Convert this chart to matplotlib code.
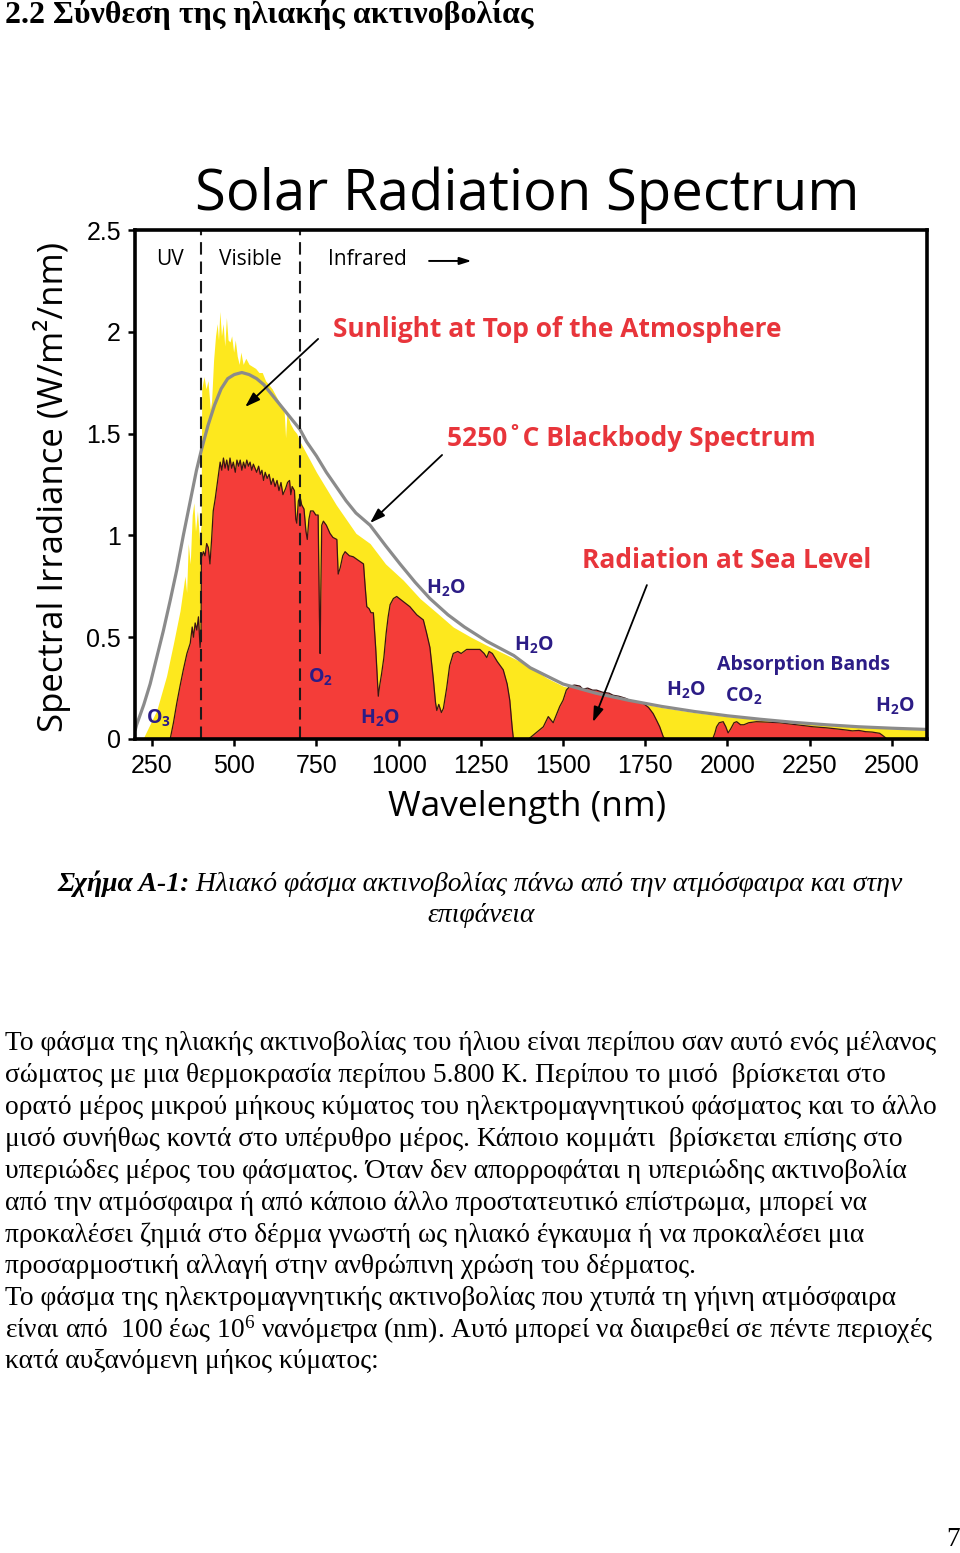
import numpy as np
import matplotlib
matplotlib.use('Agg')
import matplotlib.pyplot as plt

plt.rcParams['mathtext.default'] = 'regular'

# ---- chart data ----
# Sunlight at top of the atmosphere (yellow)
top_wl = [222, 240, 264, 294, 315, 335, 350, 355, 360, 366, 372, 377, 382, 388, 394, 399,
          401, 408, 414, 420, 427, 431, 437, 443, 448, 452, 456, 461, 466, 471, 476, 481,
          487, 492, 498, 503, 509, 515, 520, 527, 535, 545, 555, 565, 575, 585, 595, 605,
          615, 625, 635, 645, 652, 656, 660, 670, 680, 690, 700, 720, 750, 780, 810, 840,
          870, 913, 960, 1014, 1065, 1116, 1166, 1220, 1268, 1320, 1370, 1409, 1450, 1500,
          1600, 1700, 1800, 1900, 2000, 2100, 2200, 2300, 2400, 2500, 2607]
top_irr = [0.0, 0.06, 0.14, 0.31, 0.47, 0.63, 0.80, 0.72, 0.96, 0.86, 1.10, 1.16, 1.02, 1.12, 0.98, 1.05,
           1.72, 1.78, 1.72, 1.76, 1.62, 1.66, 1.86, 1.98, 2.04, 1.96, 2.10, 1.98, 2.04, 1.93, 2.07, 1.96,
           1.95, 1.98, 1.90, 1.96, 1.88, 1.84, 1.90, 1.84, 1.87, 1.84, 1.83, 1.82, 1.80, 1.80, 1.76, 1.74,
           1.72, 1.69, 1.66, 1.63, 1.60, 1.48, 1.60, 1.55, 1.52, 1.50, 1.46, 1.40, 1.31, 1.23, 1.15, 1.08,
           1.01, 0.96, 0.86, 0.78, 0.69, 0.62, 0.55, 0.50, 0.46, 0.42, 0.38, 0.345, 0.30, 0.26,
           0.22, 0.185, 0.155, 0.13, 0.11, 0.094, 0.079, 0.067, 0.058, 0.05, 0.045]

# Radiation at sea level (red)
sea_wl = [305, 315, 325, 335, 345, 356, 366, 372, 376, 381, 386, 391, 396, 399,
          400, 406, 411, 416, 421, 426, 431, 436, 442, 447, 452, 457, 462, 467, 472, 477,
          482, 487, 492, 497, 503, 508, 513, 518, 523, 528, 533, 538, 543, 548, 553, 558,
          563, 568, 574, 579, 584, 589, 594, 600, 606, 612, 618, 624, 630, 636, 642, 648,
          656, 662, 668, 672, 676, 683, 687, 690, 695, 700, 705, 712, 718, 722, 727, 732,
          740, 748, 755, 759, 761, 763, 766, 771, 780, 791, 800, 812, 816, 822, 830, 837,
          850, 862, 875, 893, 898, 903, 910, 916, 923, 930, 935, 938, 942, 948, 955, 962,
          968, 974, 984, 994, 1010, 1034, 1055, 1075, 1085, 1095, 1105, 1112, 1116, 1122,
          1130, 1136, 1146, 1155, 1166, 1180, 1190, 1207, 1225, 1247, 1260, 1268, 1275,
          1285, 1300, 1318, 1330, 1338, 1345, 1349,
          1395, 1410, 1425, 1440, 1455, 1460, 1470, 1480, 1490, 1500, 1510, 1521, 1535,
          1551, 1560, 1575, 1590, 1602, 1620, 1640, 1652, 1670, 1690, 1703, 1720, 1744,
          1760, 1774, 1785, 1794, 1805, 1812,
          1955, 1962, 1967, 1975, 1987, 1995, 2002, 2010, 2020, 2028, 2040, 2050, 2065,
          2088, 2120, 2159, 2200, 2230, 2261, 2300, 2330, 2362, 2380, 2400, 2420, 2440,
          2463, 2470, 2478, 2485, 2607]
sea_irr = [0.0, 0.08, 0.175, 0.26, 0.34, 0.42, 0.47, 0.55, 0.50, 0.57, 0.535, 0.60, 0.45, 0.52,
           0.89, 0.92, 0.90, 0.96, 0.94, 0.86, 0.98, 1.12, 1.18, 1.24, 1.30, 1.36, 1.32, 1.38, 1.33, 1.37,
           1.32, 1.38, 1.33, 1.36, 1.31, 1.37, 1.34, 1.37, 1.32, 1.36, 1.33, 1.37, 1.34, 1.36, 1.32, 1.35,
           1.33, 1.31, 1.34, 1.30, 1.32, 1.27, 1.31, 1.28, 1.30, 1.25, 1.28, 1.24, 1.27, 1.22, 1.26, 1.20,
           1.23, 1.26, 1.27, 1.20, 1.24, 1.22, 1.08, 1.06, 1.17, 1.19, 1.15, 1.13, 1.02, 0.98, 1.08, 1.12,
           1.12, 1.10, 1.10, 0.60, 0.42, 0.70, 1.05, 1.07, 1.05, 1.01, 0.99, 0.98, 0.81, 0.84, 0.90, 0.92,
           0.90, 0.895, 0.88, 0.86, 0.75, 0.65, 0.64, 0.62, 0.62, 0.45, 0.30, 0.21, 0.26, 0.32, 0.40, 0.52,
           0.60, 0.66, 0.69, 0.70, 0.68, 0.65, 0.61, 0.585, 0.52, 0.45, 0.30, 0.18, 0.14, 0.17,
           0.13, 0.15, 0.25, 0.36, 0.42, 0.43, 0.42, 0.44, 0.44, 0.44, 0.42, 0.40, 0.43,
           0.42, 0.38, 0.34, 0.27, 0.19, 0.06, 0.0,
           0.0, 0.02, 0.04, 0.06, 0.11, 0.10, 0.08, 0.12, 0.16, 0.19, 0.24, 0.26, 0.265,
           0.26, 0.245, 0.25, 0.24, 0.24, 0.23, 0.225, 0.215, 0.21, 0.20, 0.19, 0.185, 0.175,
           0.155, 0.125, 0.09, 0.06, 0.01, 0.0,
           0.0, 0.03, 0.06, 0.08, 0.085, 0.06, 0.03, 0.05, 0.08, 0.085, 0.07, 0.07, 0.08,
           0.085, 0.083, 0.08, 0.072, 0.066, 0.06, 0.055, 0.05, 0.044, 0.04, 0.042, 0.036, 0.034,
           0.028, 0.02, 0.01, 0.0, 0.0]

# 5250 C blackbody spectrum (gray line)
bb_wl = [198, 203, 225, 244, 264, 284, 305, 325, 345, 365, 385, 400, 420, 440, 460, 480,
         500, 523, 545, 568, 590, 620, 650, 670, 700, 720, 750, 780, 810, 840, 870, 913,
         960, 1004, 1050, 1095, 1150, 1200, 1268, 1350, 1400, 1450, 1500, 1600, 1700,
         1800, 1900, 2000, 2100, 2200, 2300, 2400, 2500, 2607]
bb_irr = [0.04, 0.07, 0.17, 0.27, 0.40, 0.53, 0.68, 0.83, 1.00, 1.16, 1.32, 1.42, 1.54, 1.64, 1.72, 1.77,
          1.79, 1.80, 1.79, 1.77, 1.74, 1.68, 1.62, 1.58, 1.52, 1.46, 1.39, 1.31, 1.24, 1.17, 1.11, 1.05,
          0.95, 0.86, 0.77, 0.69, 0.61, 0.55, 0.48, 0.41, 0.35, 0.31, 0.27, 0.225, 0.19,
          0.16, 0.135, 0.114, 0.097, 0.082, 0.07, 0.06, 0.053, 0.047]

region_bounds = [400, 700]
x_ticks = [250, 500, 750, 1000, 1250, 1500, 1750, 2000, 2250, 2500]
y_ticks = [0, 0.5, 1, 1.5, 2, 2.5]
y_tick_labels = ['0', '0.5', '1', '1.5', '2', '2.5']

# ---- page text ----
heading = '2.2 Σύνθεση της ηλιακής ακτινοβολίας'
caption_bold = 'Σχήμα Α-1:'
caption_rest = ' Ηλιακό φάσμα ακτινοβολίας πάνω από την ατμόσφαιρα και στην'
caption_line2 = 'επιφάνεια'
body_lines = [
    'Το φάσμα της ηλιακής ακτινοβολίας του ήλιου είναι περίπου σαν αυτό ενός μέλανος',
    'σώματος με μια θερμοκρασία περίπου 5.800 K. Περίπου το μισό  βρίσκεται στο',
    'ορατό μέρος μικρού μήκους κύματος του ηλεκτρομαγνητικού φάσματος και το άλλο',
    'μισό συνήθως κοντά στο υπέρυθρο μέρος. Κάποιο κομμάτι  βρίσκεται επίσης στο',
    'υπεριώδες μέρος του φάσματος. Όταν δεν απορροφάται η υπεριώδης ακτινοβολία',
    'από την ατμόσφαιρα ή από κάποιο άλλο προστατευτικό επίστρωμα, μπορεί να',
    'προκαλέσει ζημιά στο δέρμα γνωστή ως ηλιακό έγκαυμα ή να προκαλέσει μια',
    'προσαρμοστική αλλαγή στην ανθρώπινη χρώση του δέρματος.',
    'Το φάσμα της ηλεκτρομαγνητικής ακτινοβολίας που χτυπά τη γήινη ατμόσφαιρα',
    'είναι από  100 έως 10$^{6}$ νανόμετρα (nm). Αυτό μπορεί να διαιρεθεί σε πέντε περιοχές',
    'κατά αυξανόμενη μήκος κύματος:',
]

W, H = 960, 1553
SANS = 'Open Sans'
SERIF = 'Liberation Serif'
RED_TXT = '#e8353b'
BLUE_TXT = '#2c1c86'


def fx(px):
    return px / W


def fy(py):
    return 1 - py / H


fig = plt.figure(figsize=(W / 100, H / 100), dpi=100)
page = fig.add_axes([0, 0, 1, 1])
page.axis('off')

ax = fig.add_axes([fx(135), fy(739), 792 / W, 509 / H])

ax.fill_between(top_wl, top_irr, color='#fde81e', lw=0)
ax.fill_between(sea_wl, sea_irr, color='#f43d39', lw=0)
ax.plot(sea_wl, sea_irr, color='#3a1414', lw=0.9)
ax.plot(bb_wl, bb_irr, color='#8b8b8b', lw=2.3, solid_capstyle='butt')
for b in region_bounds:
    ax.axvline(b, color='#1a1a1a', lw=1.5, ls=(0, (6, 3.3)))

ax.set_xlim(198, 2607)
ax.set_ylim(0, 2.5)
ax.set_xticks(x_ticks)
ax.set_yticks(y_ticks)
ax.set_yticklabels(y_tick_labels)
ax.tick_params(direction='out', length=5, width=1.8, labelsize=18, pad=5)
for lab in ax.get_xticklabels() + ax.get_yticklabels():
    lab.set_family('Liberation Sans')
ax.tick_params(axis='x', pad=6)
for sp in ax.spines.values():
    sp.set_linewidth(2.6)

# region labels
ax.text(305, 2.353, 'UV', ha='center', va='center', family=SANS, fontsize=15)
ax.text(548, 2.353, 'Visible', ha='center', va='center', family=SANS, fontsize=15)
ax.text(904, 2.353, 'Infrared', ha='center', va='center', family=SANS, fontsize=15)
ax.annotate('', xy=(1230, 2.348), xytext=(1084, 2.348),
            arrowprops=dict(arrowstyle='-|>,head_length=0.7,head_width=0.22', color='black', lw=1.4))

# red annotations
ax.text(1483, 2.009, 'Sunlight at Top of the Atmosphere', ha='center', va='center',
        family=SANS, weight='bold', fontsize=19, color=RED_TXT)
ax.text(1709, 1.478, '5250˚C Blackbody Spectrum', ha='center', va='center',
        family=SANS, weight='bold', fontsize=19, color=RED_TXT)
ax.text(1998, 0.879, 'Radiation at Sea Level', ha='center', va='center',
        family=SANS, weight='bold', fontsize=19, color=RED_TXT)
arrow = dict(arrowstyle='-|>,head_length=0.9,head_width=0.3', color='black', lw=1.3,
             shrinkA=0, shrinkB=0)
ax.annotate('', xy=(533, 1.631), xytext=(755, 1.965), arrowprops=arrow)
ax.annotate('', xy=(913, 1.061), xytext=(1132, 1.395), arrowprops=arrow)
ax.annotate('', xy=(1591, 0.083), xytext=(1755, 0.756), arrowprops=arrow)

# absorption band labels
band_kw = dict(ha='center', va='center', family=SANS, weight='bold', fontsize=14, color=BLUE_TXT)
ax.text(268, 0.103, 'O$_3$', **band_kw)
ax.text(761, 0.305, 'O$_2$', **band_kw)
ax.text(943, 0.103, 'H$_2$O', **band_kw)
ax.text(1144, 0.742, 'H$_2$O', **band_kw)
ax.text(1411, 0.462, 'H$_2$O', **band_kw)
ax.text(1874, 0.241, 'H$_2$O', **band_kw)
ax.text(2050, 0.211, 'CO$_2$', **band_kw)
ax.text(2509, 0.162, 'H$_2$O', **band_kw)
ax.text(2231, 0.363, 'Absorption Bands', **band_kw)

# chart title and axis labels
fig.text(fx(527), fy(210), 'Solar Radiation Spectrum', ha='center', va='baseline',
         family=SANS, fontsize=40.5)
fig.text(fx(52), fy(487), 'Spectral Irradiance (W/m²/nm)', rotation=90,
         ha='center', va='center', family=SANS, fontsize=25)
fig.text(fx(527), fy(807), 'Wavelength (nm)', ha='center', va='center',
         family=SANS, fontsize=25.5)

# page text
fig.text(fx(5), fy(14), heading, ha='left', va='center', family=SERIF,
         weight='bold', fontsize=23)
cap = page.text(fx(57), fy(884), caption_bold, ha='left', va='center', family=SERIF,
                weight='bold', style='italic', fontsize=19.9, transform=page.transAxes)
page.annotate(caption_rest, xy=(1, 0), xycoords=cap, ha='left', va='bottom',
              family=SERIF, style='italic', fontsize=19.9)
fig.text(fx(481), fy(916), caption_line2, ha='center', va='center', family=SERIF,
         style='italic', fontsize=19.9)

for i, line in enumerate(body_lines):
    fig.text(fx(5), fy(1044 + i * 31.8), line, ha='left', va='center',
             family=SERIF, fontsize=19.8)

fig.text(fx(953), fy(1540), '7', ha='center', va='center', family=SERIF, fontsize=19.8)

fig.savefig('out.png', dpi=100)
